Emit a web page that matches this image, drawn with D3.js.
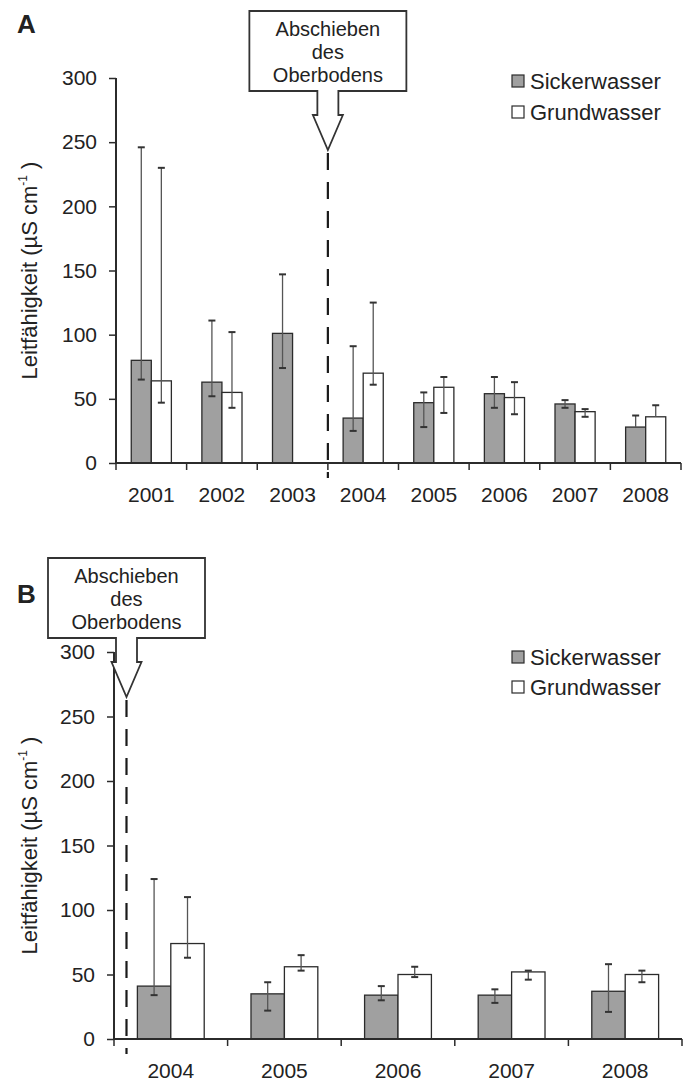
<!DOCTYPE html>
<html>
<head>
<meta charset="utf-8">
<script src="https://cdn.jsdelivr.net/npm/d3@7"></script>
<style>
  body { margin: 0; background: #fff; }
  svg { display: block; }
  text { font-family: "Liberation Sans", Arial, Helvetica, sans-serif; fill: #222; }
</style>
</head>
<body>
<svg id="chart" width="683" height="1088"></svg>
<script>
(function() {

  // Panel A
  const yearsA = ["2001", "2002", "2003", "2004", "2005", "2006", "2007", "2008"];
  const sickerA    = [80, 63, 101, 35, 47, 54, 46, 28];
  const sickerALow = [65, 52, 74, 25, 28, 43, 43, 28];
  const sickerAHigh = [246, 111, 147, 91, 55, 67, 49, 37];
  const grundA     = [64, 55, null, 70, 59, 51, 40, 36];
  const grundALow  = [47, 43, null, 61, 39, 38, 36, 36];
  const grundAHigh = [230, 102, null, 125, 67, 63, 42, 45];

  // Panel B
  const yearsB = ["2004", "2005", "2006", "2007", "2008"];
  const sickerB    = [41, 35, 34, 34, 37];
  const sickerBLow = [34, 22, 30, 28, 21];
  const sickerBHigh = [124, 44, 41, 38.5, 58];
  const grundB     = [74, 56, 50, 52, 50];
  const grundBLow  = [63, 53, 48, 46, 44];
  const grundBHigh = [110, 65, 56, 53, 53];

  const yTicks = [0, 50, 100, 150, 200, 250, 300];
  const seriesNames = ["Sickerwasser", "Grundwasser"];
  const calloutLines = ["Abschieben", "des", "Oberbodens"];
  const yLabel = "Leitfähigkeit (µS cm";

  const INK = "#2b2b2b";
  const GRAY = "#a0a0a0";
  const FONT = 21;

  const svg = d3.select("#chart");

  function drawPanel(cfg) {
    const g = svg.append("g");

    const x = d3.scaleBand().domain(cfg.years).range([cfg.x0, cfg.x1]);
    const sub = d3.scaleBand().domain(["s", "g"])
      .range([0, x.bandwidth()]).paddingOuter(cfg.outer);
    const y = d3.scaleLinear().domain([0, 300]).range([cfg.y0, cfg.yTop]);

    const rows = cfg.years.map((yr, i) => ([
      { yr, key: "s", v: cfg.s[i], lo: cfg.sLo[i], hi: cfg.sHi[i] },
      { yr, key: "g", v: cfg.g[i], lo: cfg.gLo[i], hi: cfg.gHi[i] },
    ])).flat().filter(d => d.v != null);

    // bars
    g.selectAll("rect.bar").data(rows).join("rect")
      .attr("class", "bar")
      .attr("x", d => x(d.yr) + sub(d.key))
      .attr("y", d => y(d.v))
      .attr("width", sub.bandwidth())
      .attr("height", d => y(0) - y(d.v))
      .attr("fill", d => d.key === "s" ? GRAY : "#fff")
      .attr("stroke", INK)
      .attr("stroke-width", 1.3);

    // error bars
    const capW = 3.5;
    rows.forEach(d => {
      const cx = x(d.yr) + sub(d.key) + sub.bandwidth() / 2;
      g.append("line")
        .attr("x1", cx).attr("x2", cx)
        .attr("y1", y(d.lo)).attr("y2", y(d.hi))
        .attr("stroke", "#555").attr("stroke-width", 1.3);
      [d.lo, d.hi].forEach(val => {
        if (val === d.v) return;
        g.append("line")
          .attr("x1", cx - capW).attr("x2", cx + capW)
          .attr("y1", y(val)).attr("y2", y(val))
          .attr("stroke", "#333").attr("stroke-width", 2);
      });
    });

    // y axis
    const yAxis = g.append("g")
      .attr("transform", `translate(${cfg.x0},0)`)
      .call(d3.axisLeft(y).tickValues(yTicks).tickSize(7).tickPadding(12));
    yAxis.select(".domain").attr("d", `M0,${y(300)}V${y(0)}`)
      .attr("stroke", INK).attr("stroke-width", 2);
    yAxis.selectAll(".tick line").attr("stroke", INK).attr("stroke-width", 1.5);
    yAxis.selectAll(".tick text")
      .attr("font-size", FONT).attr("fill", "#222")
      .attr("font-family", '"Liberation Sans", Arial, sans-serif');

    // x axis
    g.append("line")
      .attr("x1", cfg.x0).attr("x2", cfg.x1)
      .attr("y1", y(0)).attr("y2", y(0))
      .attr("stroke", INK).attr("stroke-width", 2);
    const bounds = cfg.years.map(yr => x(yr)).concat([x.range()[1]]);
    g.selectAll("line.xtick").data(bounds).join("line")
      .attr("class", "xtick")
      .attr("x1", d => d).attr("x2", d => d)
      .attr("y1", y(0)).attr("y2", y(0) + 7)
      .attr("stroke", INK).attr("stroke-width", 1.5);
    g.selectAll("text.xlab").data(cfg.years).join("text")
      .attr("class", "xlab")
      .attr("x", d => x(d) + x.bandwidth() / 2)
      .attr("y", y(0) + 39)
      .attr("text-anchor", "middle")
      .attr("font-size", FONT)
      .text(d => d);

    // y label
    const midY = (y(0) + y(300)) / 2;
    const lab = g.append("text")
      .attr("transform", `translate(37,${midY}) rotate(-90)`)
      .attr("text-anchor", "middle")
      .attr("font-size", 22);
    lab.append("tspan").text(yLabel);
    lab.append("tspan").attr("font-size", 12).attr("dy", -10).text("-1");
    lab.append("tspan").attr("dy", 10).text(" )");

    // panel letter
    g.append("text")
      .attr("x", 17).attr("y", cfg.letterY)
      .attr("font-size", 26).attr("font-weight", "bold")
      .attr("fill", "#111")
      .text(cfg.letter);

    // legend
    seriesNames.forEach((name, i) => {
      const ly = cfg.legendY + i * cfg.legendGap;
      g.append("rect")
        .attr("x", 512).attr("y", ly - 6)
        .attr("width", 12).attr("height", 12)
        .attr("fill", i === 0 ? GRAY : "#fff")
        .attr("stroke", INK).attr("stroke-width", 1.2);
      g.append("text")
        .attr("x", 530).attr("y", ly)
        .attr("dominant-baseline", "central")
        .attr("font-size", 22)
        .text(name);
    });

    // event marker: dashed line + callout arrow
    const ex = x(cfg.eventYear) + cfg.eventFrac * x.bandwidth();
    const boxW = 157, boxH = 80, stemW = 10.5, headW = 15, stemH = 24, headH = 35;
    const bt = cfg.boxTop, bb = bt + boxH, bl = ex - boxW / 2, br = ex + boxW / 2;
    const tipY = bb + stemH + headH;

    g.append("line")
      .attr("x1", ex).attr("x2", ex)
      .attr("y1", tipY + 3).attr("y2", y(0) + 15)
      .attr("stroke", "#1a1a1a").attr("stroke-width", 2.2)
      .attr("stroke-dasharray", "17,12");

    const path = d3.path();
    path.moveTo(bl, bt);
    path.lineTo(br, bt);
    path.lineTo(br, bb);
    path.lineTo(ex + stemW, bb);
    path.lineTo(ex + stemW, bb + stemH);
    path.lineTo(ex + headW, bb + stemH);
    path.lineTo(ex, tipY);
    path.lineTo(ex - headW, bb + stemH);
    path.lineTo(ex - stemW, bb + stemH);
    path.lineTo(ex - stemW, bb);
    path.lineTo(bl, bb);
    path.closePath();
    g.append("path")
      .attr("d", path.toString())
      .attr("fill", "#fff")
      .attr("stroke", "#333").attr("stroke-width", 1.8)
      .attr("stroke-linejoin", "miter");

    calloutLines.forEach((t, i) => {
      g.append("text")
        .attr("x", ex).attr("y", bt + 25 + i * 23)
        .attr("text-anchor", "middle")
        .attr("font-size", 20)
        .text(t);
    });
  }

  drawPanel({
    years: yearsA, s: sickerA, sLo: sickerALow, sHi: sickerAHigh,
    g: grundA, gLo: grundALow, gHi: grundAHigh,
    x0: 116, x1: 681, y0: 463, yTop: 78, outer: 0.76,
    letter: "A", letterY: 33, legendY: 81, legendGap: 31,
    eventYear: "2004", eventFrac: 0, boxTop: 11,
  });

  drawPanel({
    years: yearsB, s: sickerB, sLo: sickerBLow, sHi: sickerBHigh,
    g: grundB, gLo: grundBLow, gHi: grundBHigh,
    x0: 114, x1: 682, y0: 1039, yTop: 652, outer: 0.7,
    letter: "B", letterY: 603, legendY: 657, legendGap: 30,
    eventYear: "2004", eventFrac: 0.11, boxTop: 558,
  });

})();
</script>
</body>
</html>
